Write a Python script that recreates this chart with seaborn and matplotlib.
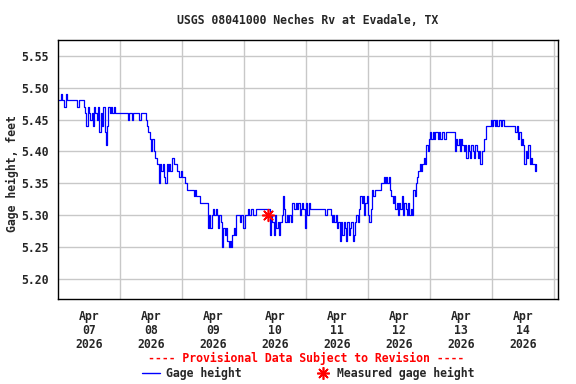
import numpy as np
import pandas as pd
import matplotlib
matplotlib.use("Agg")
import matplotlib.pyplot as plt
from matplotlib.lines import Line2D
import seaborn as sns

# ── Data: gage height in hundredths of a foot, one reading every 30 min ─────
apr07 = [548, 548, 549, 548, 548, 547, 549, 548, 548, 548, 548, 548, 548, 548, 548, 547,
         548, 548, 548, 548, 547, 546, 544, 547, 546, 545, 546, 544, 547, 546, 545, 547,
         543, 546, 544, 547, 543, 541, 544, 547, 546, 547, 546, 547, 546, 546, 546, 546]
apr08 = [546, 546, 546, 546, 546, 546, 545, 546, 546, 545, 546, 546, 546, 546, 546, 545,
         546, 546, 546, 546, 545, 544, 543, 542, 540, 542, 540, 539, 539, 538, 535, 538,
         537, 538, 536, 535, 538, 537, 538, 537, 539, 539, 538, 538, 537, 537, 536, 537]
apr09 = [536, 536, 535, 535, 534, 534, 534, 534, 534, 533, 534, 533, 533, 533, 532, 532,
         532, 532, 532, 532, 528, 530, 528, 530, 531, 530, 531, 530, 528, 530, 529, 525,
         528, 527, 528, 526, 525, 526, 525, 527, 528, 527, 530, 530, 530, 529, 530, 528]
apr10 = [528, 530, 530, 531, 530, 531, 531, 530, 530, 531, 531, 531, 531, 531, 531, 531,
         531, 531, 531, 531, 527, 530, 529, 527, 530, 528, 529, 527, 529, 530, 533, 531,
         529, 530, 529, 530, 529, 532, 532, 531, 532, 531, 532, 530, 531, 532, 531, 528]
apr11 = [532, 530, 532, 531, 531, 531, 531, 531, 531, 531, 531, 531, 531, 531, 531, 530,
         531, 531, 531, 530, 529, 530, 529, 530, 528, 529, 526, 529, 527, 529, 528, 526,
         529, 527, 528, 529, 526, 527, 529, 530, 529, 531, 533, 532, 533, 530, 532, 533]
apr12 = [530, 529, 531, 534, 533, 534, 534, 534, 534, 534, 535, 535, 536, 535, 536, 535,
         536, 534, 533, 532, 533, 531, 532, 530, 532, 531, 533, 530, 532, 531, 530, 532,
         530, 531, 530, 534, 533, 535, 536, 537, 538, 537, 538, 539, 538, 541, 540, 542]
apr13 = [543, 542, 543, 542, 543, 543, 542, 543, 542, 543, 543, 542, 543, 543, 543, 543,
         543, 543, 543, 540, 542, 541, 542, 540, 542, 541, 540, 541, 539, 541, 540, 539,
         541, 540, 539, 541, 540, 539, 540, 538, 540, 540, 542, 544, 544, 544, 544, 545]
apr14 = [544, 545, 544, 545, 544, 545, 545, 544, 545, 544, 544, 544, 544, 544, 544, 544,
         544, 544, 543, 544, 542, 543, 541, 542, 541, 538, 540, 539, 541, 538, 539, 538,
         538, 537, 538]

# single field measurement
meas_hour = [81.4]
meas_value = [5.30]

day_labels = ["Apr\n07\n2026", "Apr\n08\n2026", "Apr\n09\n2026", "Apr\n10\n2026",
              "Apr\n11\n2026", "Apr\n12\n2026", "Apr\n13\n2026", "Apr\n14\n2026"]
y_ticks = [5.20, 5.25, 5.30, 5.35, 5.40, 5.45, 5.50, 5.55]

heights = np.array(apr07 + apr08 + apr09 + apr10 + apr11 + apr12 + apr13 + apr14) / 100.0
df = pd.DataFrame({"hour": np.arange(len(heights)) * 0.5, "gage": heights})
df_meas = pd.DataFrame({"hour": meas_hour, "gage": meas_value})

# ── Style ────────────────────────────────────────────────────────────────────
sns.set_theme(style="white")
plt.rcParams["font.family"] = ["DejaVu Sans Mono", "DejaVu Sans"]
plt.rcParams["font.weight"] = "bold"
FS = 8.3

fig = plt.figure(figsize=(5.76, 3.84), dpi=100)
ax = fig.add_axes([58 / 576, 1 - 299 / 384, 500 / 576, 259 / 384])

sns.lineplot(data=df, x="hour", y="gage", ax=ax, color="#0000ff",
             linewidth=0.9, drawstyle="steps-post", estimator=None)
sns.scatterplot(data=df_meas, x="hour", y="gage", ax=ax, marker=(8, 2, 0),
                color="red", edgecolor="red", s=70, linewidth=1.2, zorder=5)

ax.set_xlim(0, 193.5)
ax.set_ylim(5.169, 5.5746)

n_days = len(day_labels)
ax.set_xticks([12 + 24 * i for i in range(n_days)])
ax.set_xticklabels(day_labels, fontsize=FS, fontweight="bold", linespacing=1.1)
ax.set_xticks([24 * (i + 1) for i in range(n_days)], minor=True)
ax.set_yticks(y_ticks)
ax.set_yticklabels([f"{v:.2f}" for v in y_ticks], fontsize=FS, fontweight="bold")
ax.tick_params(axis="x", which="both", length=0, pad=8)
ax.tick_params(axis="y", length=0, pad=7)

ax.grid(True, axis="y", which="major", color="#c8c8c8", linewidth=1.0)
ax.grid(True, axis="x", which="minor", color="#c8c8c8", linewidth=1.0)
ax.grid(False, axis="x", which="major")
ax.set_axisbelow(True)
for sp in ax.spines.values():
    sp.set_color("black")
    sp.set_linewidth(1.0)

ax.set_xlabel("")
ax.set_ylabel("")

# ── Texts ────────────────────────────────────────────────────────────────────
fig.text(308 / 576, 1 - 20 / 384, "USGS 08041000 Neches Rv at Evadale, TX",
         ha="center", va="center", fontsize=FS, fontweight="bold")
fig.text(12 / 576, 1 - 174 / 384, "Gage height, feet", rotation=90,
         ha="center", va="center", fontsize=FS, fontweight="bold")
fig.text(306 / 576, 1 - 358 / 384, "---- Provisional Data Subject to Revision ----",
         ha="center", va="center", fontsize=FS, fontweight="bold", color="red")

# legend row
leg_y = 1 - 373 / 384
fig.add_artist(Line2D([142 / 576, 160 / 576], [leg_y, leg_y], color="#0000ff",
                      linewidth=1.0, transform=fig.transFigure))
fig.text(166 / 576, leg_y, "Gage height", ha="left", va="center",
         fontsize=FS, fontweight="bold")
fig.add_artist(Line2D([323 / 576], [leg_y], marker=(8, 2, 0), markersize=9,
                      markeredgewidth=1.2, color="red", linestyle="none",
                      transform=fig.transFigure))
fig.text(337 / 576, leg_y, "Measured gage height", ha="left", va="center",
         fontsize=FS, fontweight="bold")

fig.savefig("out.png", dpi=100)
